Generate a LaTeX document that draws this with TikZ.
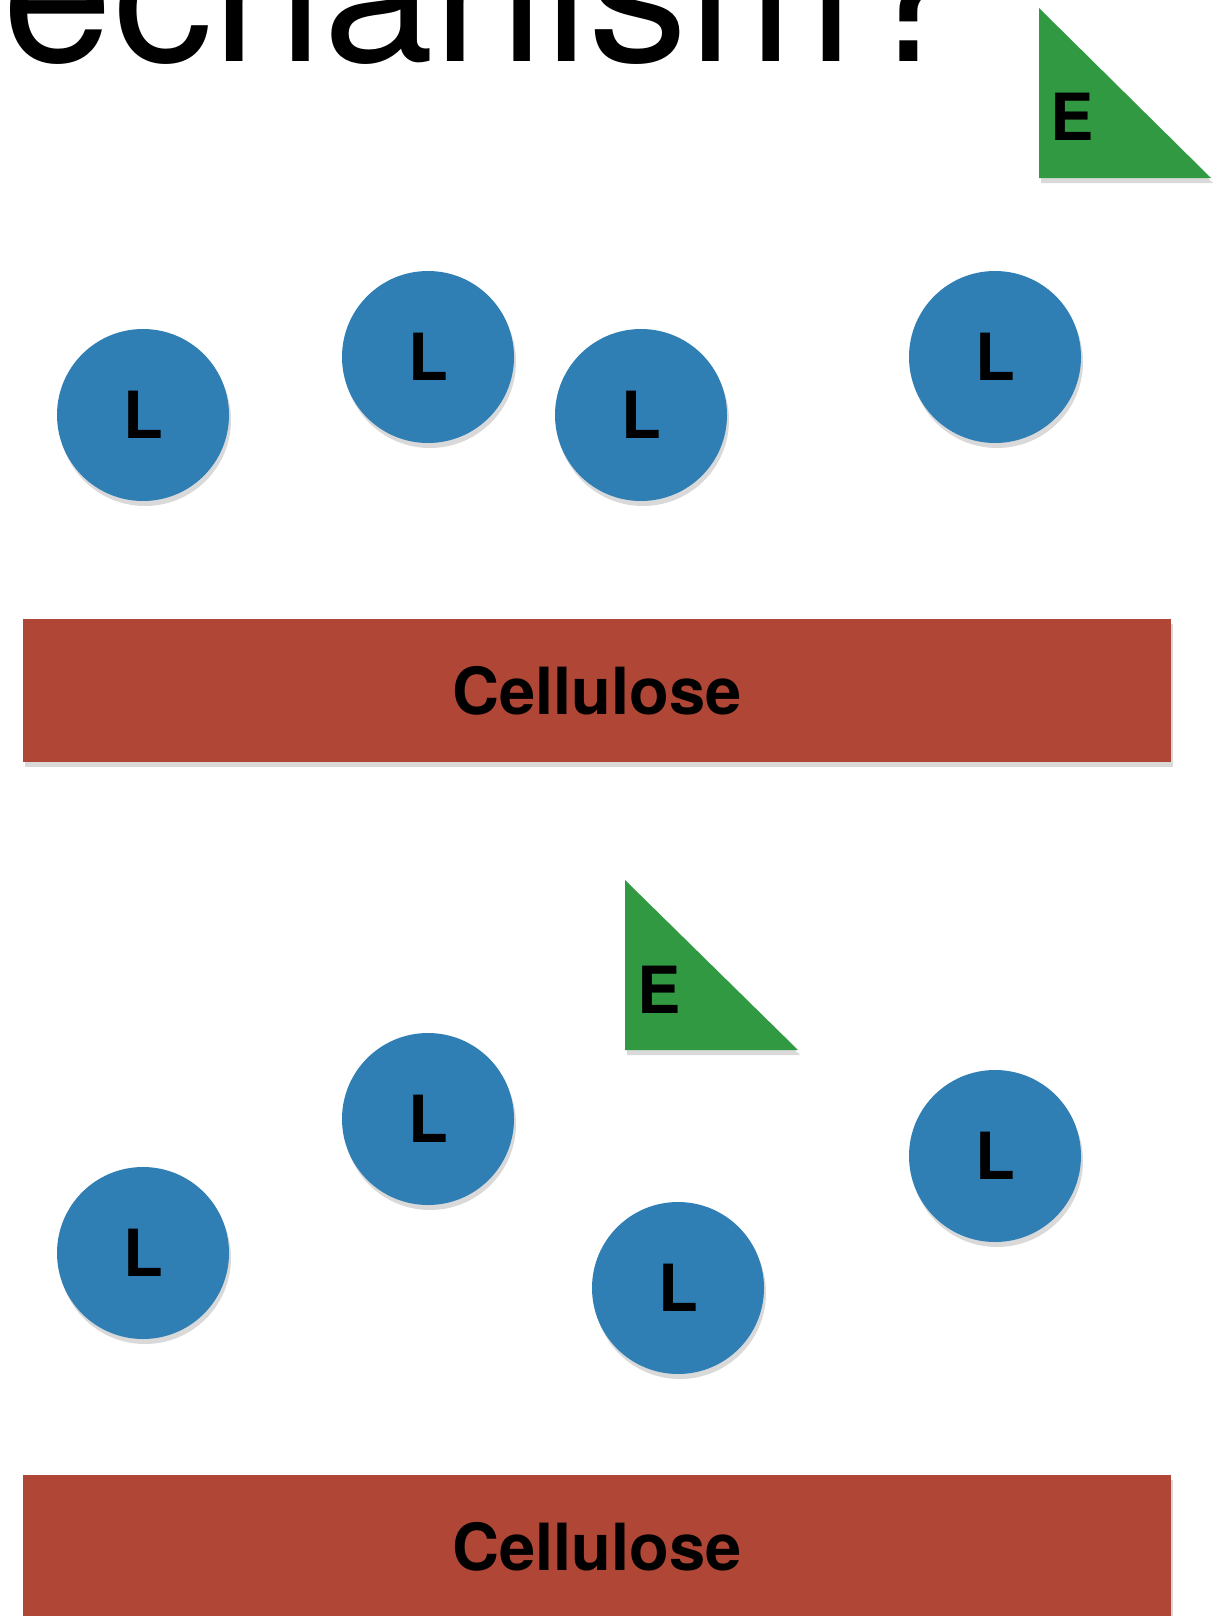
\documentclass[tikz,border=0pt]{standalone}
\usepackage{fontspec}
\setmainfont{TeX Gyre Heros}
\usepackage{tikz}
\usetikzlibrary{shadows}
\definecolor{ligblue}{RGB}{47,126,180}
\definecolor{cellred}{RGB}{176,70,53}
\definecolor{enzgreen}{RGB}{49,153,66}

\begin{document}
\begin{tikzpicture}[x=0.5pt, y=-0.5pt, shade/.style = {drop shadow={opacity=.3, shadow xshift=1pt, shadow yshift=-2.5pt}}, lig/.style = {shape=circle, fill=ligblue, minimum size=86pt, inner sep=0pt, font=\fontsize{32.5}{39}\selectfont\bfseries, shade}, cell/.style = {shape=rectangle, fill=cellred, minimum width=574pt, minimum height=71.5pt, inner sep=0pt, font=\fontsize{32.5}{39}\selectfont\bfseries, shade}, enz/.style = {fill=enzgreen, shade}, lab/.style = {inner sep=0pt, font=\fontsize{32.5}{39}\selectfont\bfseries}]
				\useasboundingbox (0,0) rectangle (1220,1616);
				\node[anchor=base east, inner sep=0pt, font=\fontsize{99.5}{104}\selectfont] (title) at (965,62) {Mechanism?};
				% first panel
				\fill[enz] (1039,8) -- (1039,178) -- (1211,178) -- cycle;
				\node[lab] (e1) at (1072,117) {E};
				\node[lig] (l1) at (143,415) {L};
				\node[lig] (l2) at (428,357) {L};
				\node[lig] (l3) at (641,415) {L};
				\node[lig] (l4) at (995,357) {L};
				\node[cell] (c1) at (597,690.5) {Cellulose};
				% second panel
				\fill[enz] (625,880) -- (625,1050) -- (798,1050) -- cycle;
				\node[lab] (e2) at (659,990) {E};
				\node[lig] (l5) at (143,1253) {L};
				\node[lig] (l6) at (428,1119) {L};
				\node[lig] (l7) at (678,1288) {L};
				\node[lig] (l8) at (995,1156) {L};
				\node[cell] (c2) at (597,1546.5) {Cellulose};
			\end{tikzpicture}
\end{document}
